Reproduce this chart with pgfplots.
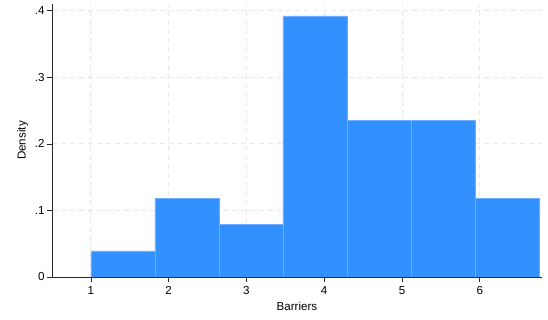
\documentclass[border=0pt]{standalone}
\usepackage{pgfplots}
\pgfplotsset{compat=1.18}
\usepackage{fontspec}
\setmainfont{Liberation Sans}
\definecolor{barfill}{RGB}{51,144,255}
\definecolor{baredge}{RGB}{110,176,255}
\definecolor{gridc}{RGB}{232,232,232}
\definecolor{axisc}{RGB}{40,40,40}
\begin{document}
\begin{tikzpicture}
\begin{axis}[
  scale only axis,
  width=490pt, height=273pt,
  xmin=0.5, xmax=6.8,
  ymin=0, ymax=0.41,
  axis x line=bottom, axis y line=left,
  axis line style={axisc, line width=0.8pt, -},
  tick style={axisc, line width=0.6pt},
  tick align=outside,
  major tick length=5pt,
  xtick={1,2,3,4,5,6},
  ytick={0,0.1,0.2,0.3,0.4},
  yticklabels={0,.1,.2,.3,.4},
  /pgf/number format/assume math mode=true,
  ticklabel style={font=\fontsize{11.6}{13}\selectfont, text=black},
  xticklabel style={yshift=-1pt},
  yticklabel style={xshift=1pt},
  grid=major,
  major grid style={gridc, dash pattern=on 5pt off 4pt, line width=0.8pt},
  xlabel={Barriers}, ylabel={Density},
  label style={font=\fontsize{11.6}{13}\selectfont},
  xlabel style={yshift=0pt},
  ylabel style={yshift=0pt},
]
% density histogram, 7 bins of width 0.823 starting at 1
\addplot[ybar interval, fill=barfill, draw=baredge, line width=0.6pt] coordinates {
  (1.000,0.0392) (1.823,0.1176) (2.646,0.0784) (3.469,0.3920)
  (4.291,0.2352) (5.114,0.2352) (5.937,0.1176) (6.760,0.1176)
};
\end{axis}
\pgfresetboundingbox
\path ([shift={(-52pt,-43pt)}]current axis.south west) rectangle ([shift={(6pt,4pt)}]current axis.north east);
\end{tikzpicture}
\end{document}
